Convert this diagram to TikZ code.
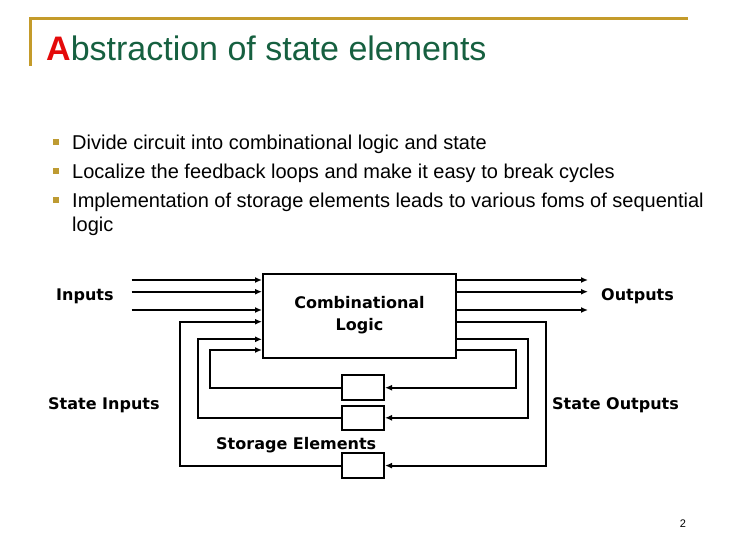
\documentclass[tikz,border=0pt]{standalone}
\usepackage{fontspec}
\setmainfont{Liberation Sans}
\newfontfamily\labfont{DejaVu Sans}
\usetikzlibrary{arrows.meta}
\definecolor{gold}{RGB}{196,155,42}
\definecolor{bgold}{RGB}{190,155,50}
\definecolor{tgreen}{RGB}{22,96,64}
\definecolor{tred}{RGB}{228,10,10}
\tikzset{
  wire/.style={line width=2pt},
  arr/.style={wire,-{Latex[length=7pt,width=6pt]}},
  lab/.style={font=\labfont\bfseries\fontsize{16}{22}\selectfont, inner sep=0pt},
  body/.style={font=\fontsize{20}{24}\selectfont, inner sep=0pt, anchor=base west},
  bul/.style={fill=bgold, minimum size=6pt, inner sep=0pt},
  store/.style={draw, line width=2pt, fill=white, minimum width=42pt, minimum height=24.5pt, inner sep=0pt},
}
\begin{document}
\begin{tikzpicture}[x=1pt,y=-1pt]
\useasboundingbox (0,0) rectangle (730,547);
% header
\draw[gold, line width=3pt] (30,66) -- (30,18) -- (688,18);
\node[anchor=base west, inner sep=0pt, text=tgreen, font=\fontsize{34}{40}\selectfont] (title) at (46,60) {\textcolor{tred}{\bfseries A}bstraction of state elements};
% bullets
\node[bul] (b1) at (56,142) {};
\node[bul] (b2) at (56,171) {};
\node[bul] (b3) at (56,200) {};
\node[body] (t1) at (72,149) {Divide circuit into combinational logic and state};
\node[body] (t2) at (72,178) {Localize the feedback loops and make it easy to break cycles};
\node[body] (t3) at (72,207) {Implementation of storage elements leads to various foms of sequential};
\node[body] (t4) at (72,231) {logic};
% combinational box
\node[draw, line width=2pt, minimum width=193pt, minimum height=84pt, inner sep=0pt, align=center, lab] (cl) at (359.5,315.5) {Combinational\\Logic};
% storage elements
\node[store] (s1) at (363,387.7) {};
\node[store] (s2) at (363,417.8) {};
\node[store] (s3) at (363,465.6) {};
% inputs
\coordinate (i1) at (131.7,280);
\coordinate (i2) at (131.7,291.7);
\coordinate (i3) at (131.7,310);
\draw[arr] (i1) -- (i1 -| cl.west);
\draw[arr] (i2) -- (i2 -| cl.west);
\draw[arr] (i3) -- (i3 -| cl.west);
% outputs
\coordinate (o1) at (588,280);
\coordinate (o2) at (588,291.7);
\coordinate (o3) at (588,310);
\draw[arr] (o1 -| cl.east) -- (o1);
\draw[arr] (o2 -| cl.east) -- (o2);
\draw[arr] (o3 -| cl.east) -- (o3);
% feedback loops: outer (s3), middle (s2), inner (s1)
\coordinate (ro) at (546,321.7);
\coordinate (rm) at (528.3,339.3);
\coordinate (ri) at (516,350);
\coordinate (lo) at (179.7,321.7);
\coordinate (lm) at (197.7,339.3);
\coordinate (li) at (210,350);
\draw[arr] (ro -| cl.east) -- (ro) |- (s3.east);
\draw[arr] (rm -| cl.east) -- (rm) |- (s2.east);
\draw[arr] (ri -| cl.east) -- (ri) |- (s1.east);
\draw[arr] (s3.west) -| (lo) -- (lo -| cl.west);
\draw[arr] (s2.west) -| (lm) -- (lm -| cl.west);
\draw[arr] (s1.west) -| (li) -- (li -| cl.west);
% labels
\node[lab, anchor=base west] (lin) at (56,300) {Inputs};
\node[lab, anchor=base west] (lout) at (601,300) {Outputs};
\node[lab, anchor=base west] (lsin) at (48,409) {State Inputs};
\node[lab, anchor=base west] (lsout) at (552,409) {State Outputs};
\node[lab, anchor=base west] (lstore) at (216,449) {Storage Elements};
\node[anchor=base, inner sep=0pt, font=\fontsize{11}{13}\selectfont] (pg) at (683,527) {2};
\end{tikzpicture}
\end{document}
